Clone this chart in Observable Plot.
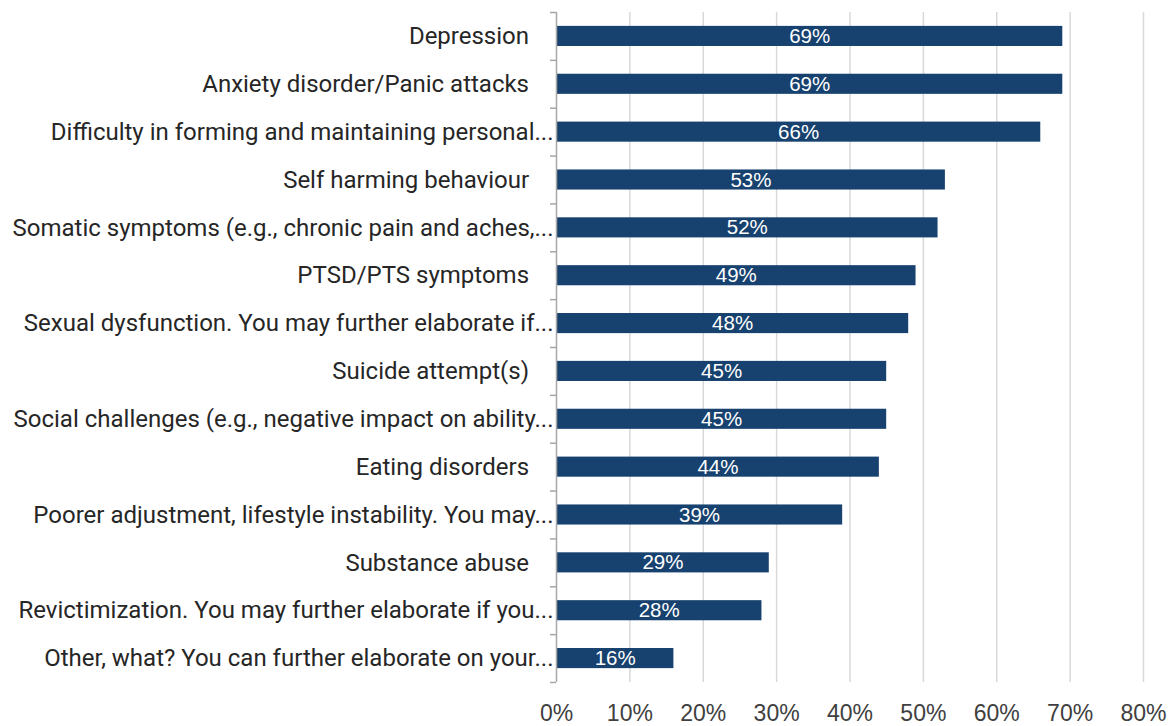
<!DOCTYPE html>
<html>
<head>
<meta charset="utf-8">
<script src="https://cdn.jsdelivr.net/npm/d3@7"></script>
<script src="https://cdn.jsdelivr.net/npm/@observablehq/plot@0.6"></script>
<style>
  html, body { margin: 0; padding: 0; background: #fff; }
  #chart svg text { white-space: pre; }
</style>
</head>
<body>
<div id="chart"></div>
<script>
// Categories as shown (top to bottom); trailing spaces are part of the original labels
const categories = [
  "Depression\u2003",
  "Anxiety disorder/Panic attacks\u2003",
  "Difficulty in forming and maintaining personal...",
  "Self harming behaviour\u2003",
  "Somatic symptoms (e.g., chronic pain and aches,...",
  "PTSD/PTS symptoms\u2003",
  "Sexual dysfunction. You may further elaborate if...",
  "Suicide attempt(s)\u2003",
  "Social challenges (e.g., negative impact on ability...",
  "Eating disorders\u2003",
  "Poorer adjustment, lifestyle instability. You may...",
  "Substance abuse\u2003",
  "Revictimization. You may further elaborate if you...",
  "Other, what? You can further elaborate on your..."
];
const values = [0.69, 0.69, 0.66, 0.53, 0.52, 0.49, 0.48, 0.45, 0.45, 0.44, 0.39, 0.29, 0.28, 0.16];
const xTicks = [0, 0.1, 0.2, 0.3, 0.4, 0.5, 0.6, 0.7, 0.8];
const gridTicks = xTicks.slice(1);

const data = categories.map((c, i) => ({category: c, value: values[i]}));

const W = 1170, H = 726;
const mTop = 12, mBottom = 44, mLeft = 556, mRight = 27;
const step = (H - mTop - mBottom) / categories.length;
const pct = d3.format(".0%");

const chart = Plot.plot({
  width: W,
  height: H,
  marginTop: mTop,
  marginBottom: mBottom,
  marginLeft: mLeft,
  marginRight: mRight,
  style: {background: "#fff", overflow: "visible"},
  x: {domain: [0, 0.8]},
  y: {domain: categories, paddingInner: 0.58, paddingOuter: 0.29, round: false},
  marks: [
    Plot.ruleX(gridTicks, {stroke: "#d9d9d9", strokeWidth: 1.5}),
    Plot.barX(data, {x: "value", y: "category", fill: "#17416E"}),
    Plot.text(data, {
      x: d => d.value / 2, y: "category", text: d => pct(d.value),
      fill: "#fff", fontSize: 20.5, fontFamily: "Liberation Sans, Arial, sans-serif"
    }),
    Plot.ruleX([0], {stroke: "#a6a6a6", strokeWidth: 1.5}),
    // category labels
    Plot.axisY({
      tickSize: 0, tickPadding: 3, fontSize: 24, label: null,
      fontFamily: "Roboto, sans-serif", color: "#262626"
    }),
    // tick marks at category boundaries
    Plot.axisY({tickSize: 6, text: null, label: null, dy: -step / 2, stroke: "#a6a6a6", strokeWidth: 1.5}),
    Plot.axisY({ticks: categories.slice(-1), tickSize: 6, text: null, label: null, dy: step / 2, stroke: "#a6a6a6", strokeWidth: 1.5}),
    Plot.axisX({
      ticks: xTicks, tickFormat: pct, tickSize: 0, tickPadding: 22, label: null,
      fontSize: 23, fontFamily: "Liberation Sans, Arial, sans-serif", color: "#404040"
    })
  ]
});
document.getElementById("chart").appendChild(chart);
</script>
</body>
</html>
